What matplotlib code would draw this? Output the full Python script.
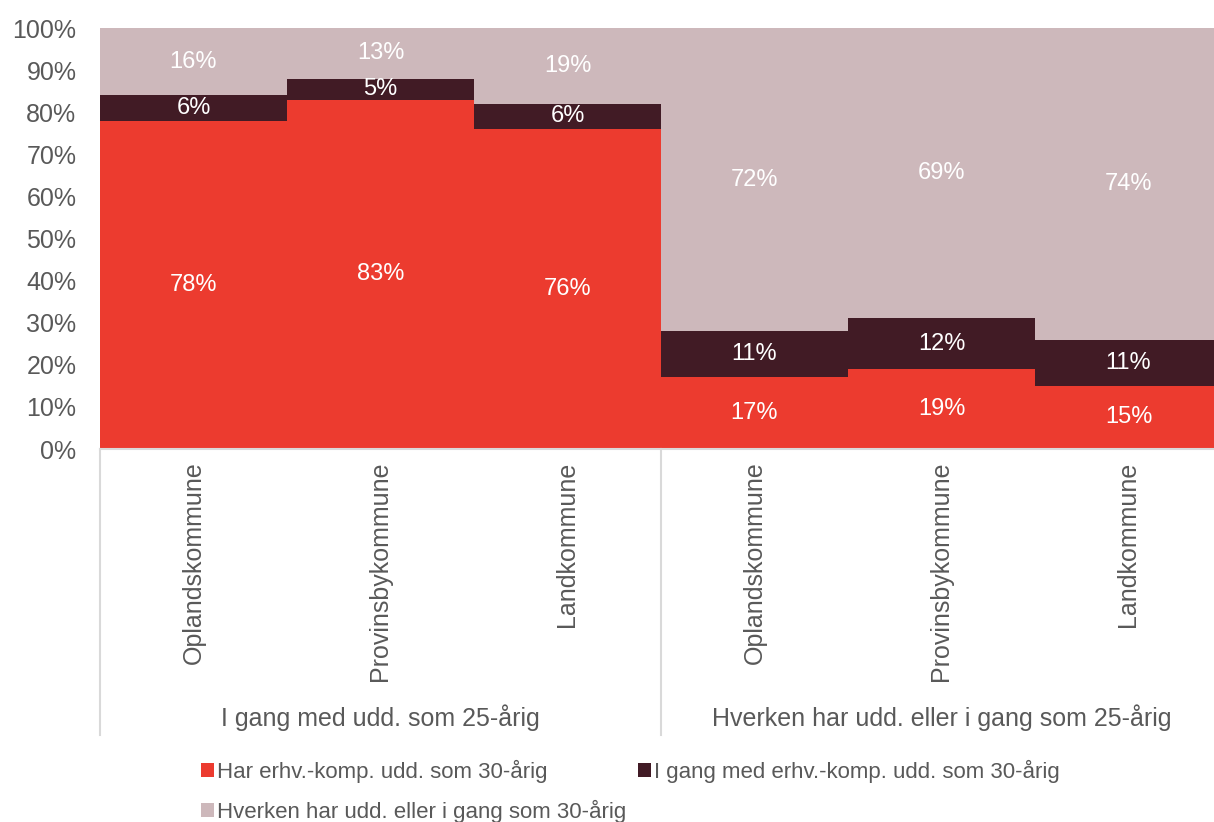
import matplotlib.pyplot as plt
from matplotlib.lines import Line2D
import numpy as np

plt.rcParams['font.family'] = ['Liberation Sans', 'DejaVu Sans']

categories = ['Oplandskommune', 'Provinsbykommune', 'Landkommune',
              'Oplandskommune', 'Provinsbykommune', 'Landkommune']
groups = ['I gang med udd. som 25-årig', 'Hverken har udd. eller i gang som 25-årig']
series_names = ['Har erhv.-komp. udd. som 30-årig',
                'I gang med erhv.-komp. udd. som 30-årig',
                'Hverken har udd. eller i gang som 30-årig']
har_udd = [78, 83, 76, 17, 19, 15]
i_gang = [6, 5, 6, 11, 12, 11]
hverken = [16, 13, 19, 72, 69, 74]

colors = ['#EC3B2F', '#411B25', '#CDB8BB']
grey = '#595959'

fig = plt.figure(figsize=(12.14, 8.22), dpi=100)
# plot area runs a little past the right edge of the picture, as in the original
ax = fig.add_axes([100 / 1214, 1 - 449 / 822, 1122 / 1214, (449 - 28) / 822])

x = np.arange(len(categories))
bottom = np.zeros(len(categories))
handles = []
for vals, col, name in zip([har_udd, i_gang, hverken], colors, series_names):
    vals = np.array(vals, dtype=float)
    h = ax.bar(x, vals, width=1.0, bottom=bottom, color=col, label=name, linewidth=0)
    handles.append(h)
    for xi, b, v in zip(x, bottom, vals):
        ax.text(xi, min(b + v / 2, (b + 100) / 2), f'{int(v)}%', ha='center', va='center',
                color='white', fontsize=17)
    bottom += vals

ax.set_xlim(-0.5, 5.5)
ax.set_ylim(0, 100)
ax.set_yticks(np.arange(0, 101, 10))
ax.set_yticklabels([f'{v}%' for v in range(0, 101, 10)])
ax.set_xticks(x)
ax.set_xticklabels(categories, rotation=90, va='top', ha='center')
ax.tick_params(axis='both', length=0, labelsize=18, labelcolor=grey)
ax.tick_params(axis='x', pad=9)
ax.tick_params(axis='y', pad=17)

for s in ['top', 'right', 'left']:
    ax.spines[s].set_visible(False)
ax.spines['bottom'].set_color('#D9D9D9')
ax.spines['bottom'].set_linewidth(1.5)

# group separators and labels
trans = ax.get_xaxis_transform()
for xs in [-0.5, 2.5]:
    ax.add_line(Line2D([xs, xs], [0, -0.68], transform=trans, color='#D9D9D9',
                       linewidth=1.5, clip_on=False))
for gi, g in enumerate(groups):
    ax.text(gi * 3 + 1, -0.637, g, transform=trans, ha='center', va='center',
            fontsize=18, color=grey)

# legend: row 1 = first two series, row 2 = third
order = [0, 2, 1]
fig.legend([handles[i] for i in order], [series_names[i] for i in order],
           loc='upper left', bbox_to_anchor=(0.158, 1 - 751 / 822), ncol=2,
           frameon=False, fontsize=16, handlelength=0.6, handleheight=0.6,
           handletextpad=0.15, columnspacing=0.5, labelcolor=grey, labelspacing=0.75,
           borderaxespad=0)

fig.savefig('out.png', dpi=100)
